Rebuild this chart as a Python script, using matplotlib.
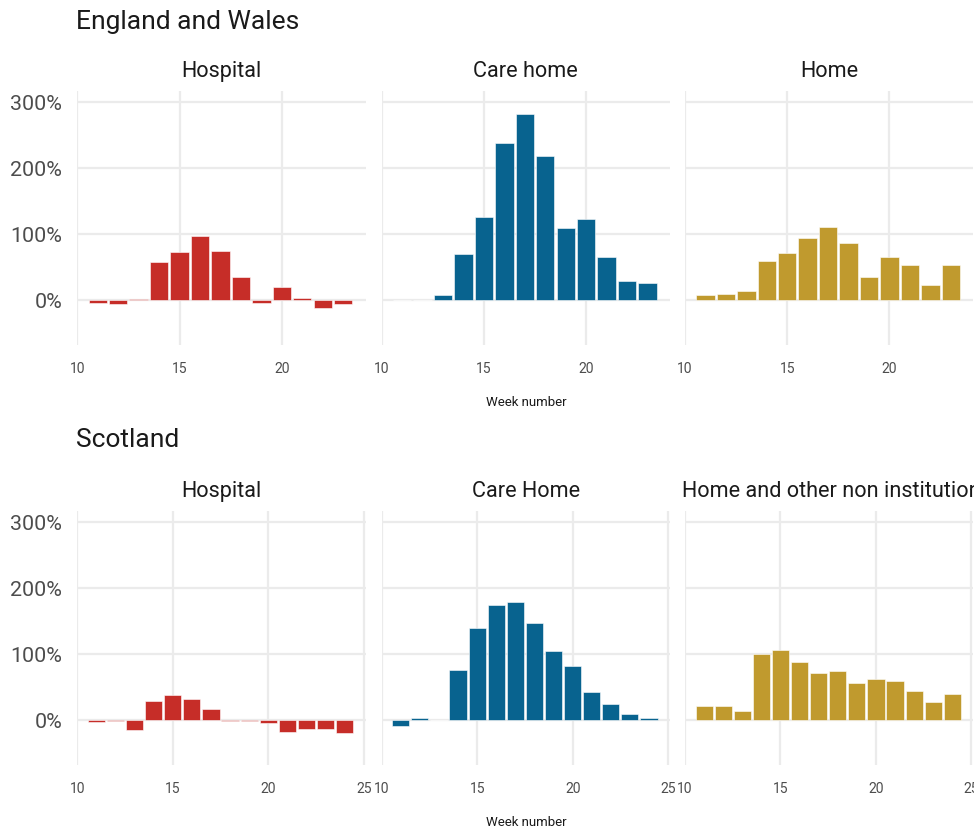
import matplotlib
matplotlib.use("Agg")
from matplotlib import pyplot as plt
import numpy as np

plt.rcParams['font.family'] = ['Roboto', 'DejaVu Sans']

# England and Wales, weeks 11-23 (% excess deaths)
ew_weeks = list(range(11, 24))
ew_hospital = [-4, -6, 2, 58, 73, 97, 75, 36, -4, 21, 4, -12, -6]
ew_care_home = [1, 0.5, 8, 70, 126, 239, 282, 218, 110, 123, 66, 29, 27]
ew_home = [8, 9, 15, 59, 72, 94, 111, 87, 36, 66, 54, 24, 54]

# Scotland, weeks 11-24
sc_weeks = list(range(11, 25))
sc_hospital = [-3, -1, -15, 30, 39, 32, 17, -1, -1, -4, -17, -13, -13, -19]
sc_care_home = [-8, 3, 1, 77, 140, 175, 179, 147, 105, 83, 43, 25, 10, 3]
sc_home = [22, 22, 15, 101, 106, 89, 72, 75, 56, 63, 59, 44, 28, 40]

ew_titles = ['Hospital', 'Care home', 'Home']
sc_titles = ['Hospital', 'Care Home', 'Home and other non institutional']
colors = ['#C62D28', '#08638F', '#C09A2E']

W, H = 974, 830
fig = plt.figure(figsize=(W / 100, H / 100), dpi=100)
fig.patch.set_facecolor('white')

panel_x = [(77.3, 365.7), (381.7, 670.0), (685.0, 973.3)]
grid_col = '#EBEBEB'


def px_rect(l, t, r, b):
    return [l / W, 1 - b / H, (r - l) / W, (b - t) / H]


def draw_row(weeks, series, titles, top, bottom, xmax, xticks, country, country_y):
    fig.text(76 / W, 1 - country_y / H, country, fontsize=19, color='#1a1a1a',
             ha='left', va='center')
    for i, (vals, title) in enumerate(zip(series, titles)):
        l, r = panel_x[i]
        ax = fig.add_axes(px_rect(l, top, r, bottom))
        ax.bar(weeks, vals, width=0.9, color=colors[i], edgecolor='white',
               linewidth=0.4, zorder=3)
        ax.set_xlim(10, xmax)
        ax.set_ylim(-67.5, 317.5)
        ax.set_xticks(xticks)
        ax.set_yticks([0, 100, 200, 300])
        ax.grid(True, color=grid_col, linewidth=1.6, zorder=0)
        ax.set_axisbelow(True)
        for s in ax.spines.values():
            s.set_visible(False)
        ax.tick_params(length=0)
        ax.tick_params(axis='x', labelsize=10, labelcolor='#4d4d4d', pad=12)
        if i == 0:
            ax.set_yticklabels([f'{v}%' for v in [0, 100, 200, 300]])
            ax.tick_params(axis='y', labelsize=15.4, labelcolor='#4d4d4d', pad=11)
        else:
            ax.set_yticklabels([])
        # the long right-hand title runs off the edge, as in the original
        if i == 2 and len(title) > 20:
            fig.text(682 / W, 1 - (top - 19) / H, title, fontsize=15.6,
                     color='#1a1a1a', ha='left', va='center')
        else:
            fig.text((l + r) / 2 / W, 1 - (top - 19) / H, title, fontsize=15.6,
                     color='#1a1a1a', ha='center', va='center')
    fig.text(526 / W, 1 - (bottom + 57) / H, 'Week number', fontsize=9.5,
             color='#1a1a1a', ha='center', va='center')


draw_row(ew_weeks, [ew_hospital, ew_care_home, ew_home], ew_titles,
         90.7, 345.0, 24.1, [10, 15, 20], 'England and Wales', 22)
draw_row(sc_weeks, [sc_hospital, sc_care_home, sc_home], sc_titles,
         510.7, 765.0, 25.1, [10, 15, 20, 25], 'Scotland', 440)

fig.savefig('out.png', dpi=100, facecolor='white')
